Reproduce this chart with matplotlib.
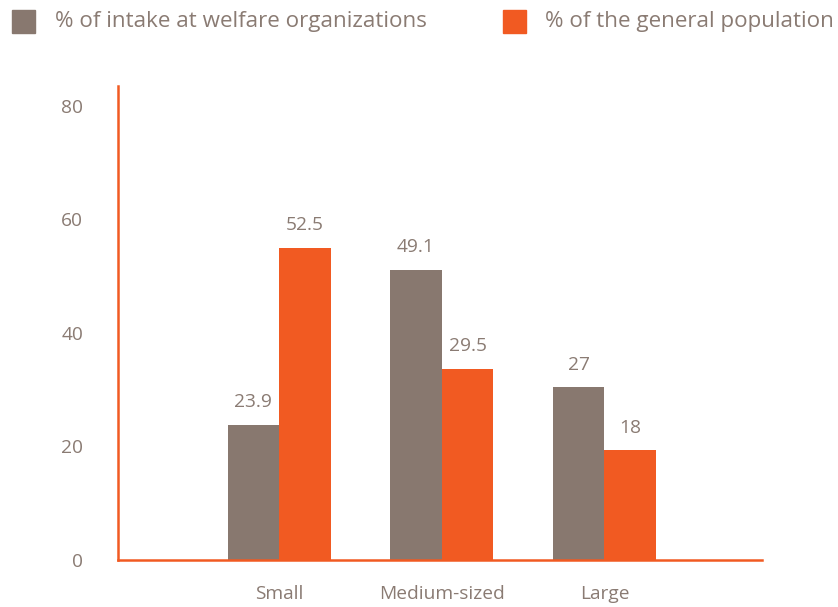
import matplotlib
matplotlib.use("Agg")
import matplotlib.pyplot as plt
import numpy as np
from matplotlib.patches import Rectangle

categories = ["Small", "Medium-sized", "Large"]
series_names = ["% of intake at welfare organizations", "% of the general population"]

# label values as printed, bar heights as drawn in the reference
intake_labels = ["23.9", "49.1", "27"]
population_labels = ["52.5", "29.5", "18"]
intake_heights = [23.8, 51.1, 30.4]
population_heights = [54.9, 33.6, 19.3]

y_ticks = [0, 20, 40, 60, 80]

GRAY = "#88786f"
ORANGE = "#f15a22"
TEXT = "#8a7b73"

plt.rcParams["font.family"] = ["Open Sans", "DejaVu Sans"]

fig = plt.figure(figsize=(8.38, 6.07), dpi=100)
ax = fig.add_axes([0.1405, 0.0774, 0.769, 0.7809])

x = np.arange(len(categories))
w = 0.317
b1 = ax.bar(x - w / 2, intake_heights, w, color=GRAY)
b2 = ax.bar(x + w / 2, population_heights, w, color=ORANGE)

for bars, labels in [(b1, intake_labels), (b2, population_labels)]:
    for bar, lab in zip(bars, labels):
        ax.annotate(lab, (bar.get_x() + bar.get_width() / 2, bar.get_height()),
                    xytext=(0, 16.5), textcoords="offset points",
                    ha="center", va="center", fontsize=13.8, color=TEXT)

ax.set_xlim(-0.993, 2.97)
ax.set_ylim(0, 83.5)
ax.set_xticks(x)
ax.set_xticklabels(categories)
ax.set_yticks(y_ticks)

for s in ["top", "right"]:
    ax.spines[s].set_visible(False)
for s in ["left", "bottom"]:
    ax.spines[s].set_color(ORANGE)
    ax.spines[s].set_linewidth(1.8)

ax.tick_params(axis="y", length=0, pad=25, labelsize=13.8, labelcolor=TEXT)
ax.tick_params(axis="x", length=0, pad=18, labelsize=13.8, labelcolor=TEXT)

# legend drawn by hand across the top
W, H = 838, 607
for name, color, sx, tx in [(series_names[0], GRAY, 12, 55), (series_names[1], ORANGE, 503, 545)]:
    fig.add_artist(Rectangle((sx / W, 1 - 33 / H), 23 / W, 23 / H,
                             transform=fig.transFigure, color=color))
    fig.text(tx / W, 1 - 21.5 / H, name, fontsize=16.1, color=TEXT, va="center", ha="left")

fig.savefig("out.png", dpi=100)
